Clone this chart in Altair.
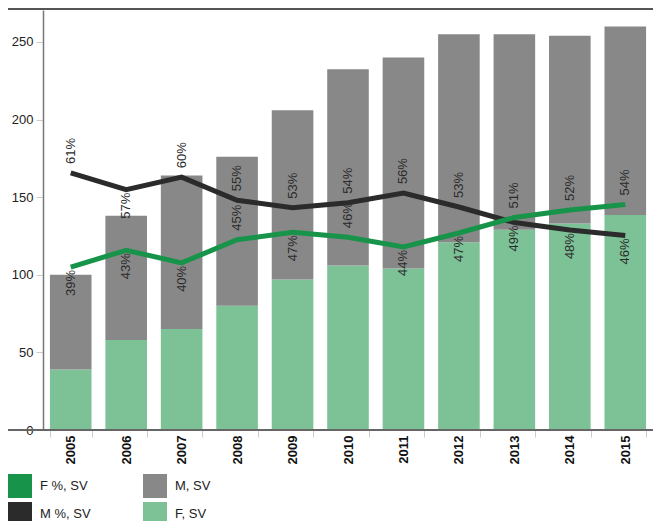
import altair as alt
import pandas as pd

years = ["2005", "2006", "2007", "2008", "2009", "2010", "2011", "2012", "2013", "2014", "2015"]
f_sv = [39, 58, 65, 80, 97, 106, 104, 121, 129, 133, 138.5]
m_sv = [61, 80, 99, 96, 109, 126.5, 136, 134, 126, 121, 121.5]
f_pct = [38.8, 42.8, 39.8, 45.3, 47.1, 45.9, 43.6, 46.9, 50.6, 52.4, 53.7]
m_pct = [61.2, 57.2, 60.2, 54.7, 52.9, 54.1, 56.4, 53.1, 49.4, 47.6, 46.3]
f_label_side = ["below", "below", "below", "above", "below", "above", "below", "below", "above", "above", "above"]
m_label_side = ["above", "below", "above", "above", "above", "above", "above", "above", "below", "below", "below"]
series = ["F %, SV", "M, SV", "M %, SV", "F, SV"]
colors = ["#17944a", "#888888", "#2b2b2b", "#7cc296"]
y_ticks = [0, 50, 100, 150, 200, 250]

W, H = 610, 420
FONT = "Liberation Sans"

bar_rows = []
for i, y in enumerate(years):
    bar_rows.append({"year": y, "series": "F, SV", "value": f_sv[i], "ord": 0})
    bar_rows.append({"year": y, "series": "M, SV", "value": m_sv[i], "ord": 1})
bar_df = pd.DataFrame(bar_rows)

line_df = pd.DataFrame({"year": years, "f": f_pct, "m": m_pct})

lab_rows = []
for i, y in enumerate(years):
    lab_rows.append({"year": y, "pct": f_pct[i], "side": f_label_side[i]})
    lab_rows.append({"year": y, "pct": m_pct[i], "side": m_label_side[i]})
lab_df = pd.DataFrame(lab_rows)

x_enc = alt.X(
    "year:O",
    sort=years,
    scale=alt.Scale(paddingInner=0.25, paddingOuter=0.125),
    axis=alt.Axis(
        title=None, labelAngle=270, labelFontWeight="bold", labelFontSize=13,
        labelFont=FONT, labelColor="#111111", tickColor="#cccccc", tickSize=7,
        tickBand="extent", domain=False, labelPadding=-2,
    ),
)

bars = alt.Chart(bar_df).mark_bar().encode(
    x=x_enc,
    y=alt.Y(
        "value:Q", stack="zero",
        scale=alt.Scale(domain=[0, 270.6], nice=False, zero=True),
        axis=alt.Axis(
            title=None, values=y_ticks, labelFontSize=13, labelFont=FONT,
            labelColor="#222222", tickColor="#cccccc", tickSize=7, labelPadding=3,
            domainColor="#777777", domainWidth=1.5, grid=False,
        ),
    ),
    color=alt.Color(
        "series:N",
        scale=alt.Scale(domain=series, range=colors),
        legend=alt.Legend(
            title=None, orient="none", legendX=-35, legendY=H + 44, columns=2,
            direction="horizontal",
            symbolType="square", symbolSize=576, symbolStrokeWidth=0,
            symbolOpacity=1, labelFontSize=13, labelFont=FONT, labelColor="#222222",
            labelOffset=8, columnPadding=52, rowPadding=4, padding=0,
        ),
    ),
    order=alt.Order("ord:Q"),
)

frame_df = pd.DataFrame({"a": [0]})
top_rule = alt.Chart(frame_df).mark_rule(color="#555555", strokeWidth=2).encode(
    x=alt.value(-35), x2=alt.value(W), y=alt.value(-1)
)
bottom_rule = alt.Chart(frame_df).mark_rule(color="#666666", strokeWidth=2).encode(
    x=alt.value(-35), x2=alt.value(W), y=alt.value(H)
)

pct_scale = alt.Scale(domain=[0, 100], nice=False, zero=True)

m_line = alt.Chart(line_df).mark_line(color="#2b2b2b", strokeWidth=5).encode(
    x=x_enc, y=alt.Y("m:Q", scale=pct_scale, axis=None)
)
f_line = alt.Chart(line_df).mark_line(color="#17944a", strokeWidth=5).encode(
    x=x_enc, y=alt.Y("f:Q", scale=pct_scale, axis=None)
)

lab_base = alt.Chart(lab_df).transform_calculate(
    label="format(datum.pct, '.0f') + '%'"
)
above = lab_base.transform_filter(alt.datum.side == "above").mark_text(
    angle=270, align="left", baseline="middle", dx=9, fontSize=13, font=FONT, color="#2b2b2b"
).encode(x=x_enc, y=alt.Y("pct:Q", scale=pct_scale, axis=None), text="label:N")
below = lab_base.transform_filter(alt.datum.side == "below").mark_text(
    angle=270, align="right", baseline="middle", dx=-3, fontSize=13, font=FONT, color="#2b2b2b"
).encode(x=x_enc, y=alt.Y("pct:Q", scale=pct_scale, axis=None), text="label:N")

chart = alt.layer(
    alt.layer(bars, top_rule, bottom_rule),
    alt.layer(m_line, f_line, above, below),
).resolve_scale(y="independent").properties(
    width=W, height=H,
    autosize=alt.AutoSizeParams(type="none"),
    padding={"left": 35, "top": 2, "right": 0, "bottom": 91},
).configure_view(stroke=None)

chart.save("out.html", embed_options={"renderer": "svg", "actions": False})
